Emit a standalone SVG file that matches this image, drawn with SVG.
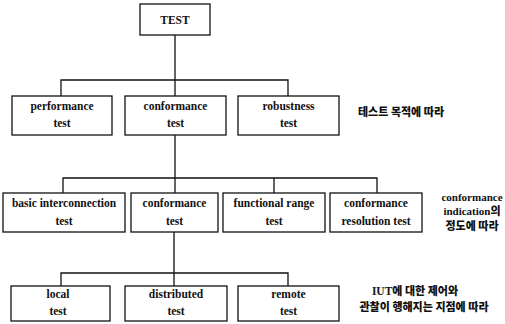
<svg xmlns="http://www.w3.org/2000/svg" width="505" height="324" viewBox="0 0 505 324">
  <style>
    .box { fill: #fff; stroke: #111; stroke-width: 1.3; }
    .wire { fill: none; stroke: #111; stroke-width: 1.3; }
    .lbl { font-family: "Liberation Serif", "DejaVu Serif", serif; font-weight: bold; font-size: 11.5px; fill: #111; text-anchor: middle; }
    .note { font-family: "Liberation Serif", "Noto Sans CJK KR", serif; font-weight: bold; font-size: 11px; fill: #111; }
    .kr { font-family: "Noto Sans CJK KR", sans-serif; font-weight: 900; font-size: 11px; fill: #111; }
  </style>
  <rect width="505" height="324" fill="#fff"/>

  <!-- connectors -->
  <g id="connectors">
    <path class="wire" d="M175 35 V96 M61 96 V80 H288 V96"/>
    <path class="wire" d="M175 135 V193 M63 193 V178 H377 V193 M274 178 V193"/>
    <path class="wire" d="M174 232 V286 M61 286 V273 H288 V286"/>
  </g>

  <!-- root -->
  <g id="test">
    <rect class="box" x="140" y="4" width="70" height="31"/>
    <text class="lbl" x="175" y="24" font-size="12.5">TEST</text>
  </g>

  <!-- level 1 -->
  <g id="performance">
    <rect class="box" x="12" y="96" width="100" height="39"/>
    <text class="lbl" x="62" y="110">performance</text>
    <text class="lbl" x="62" y="127">test</text>
  </g>
  <g id="conformance">
    <rect class="box" x="125" y="96" width="101" height="39"/>
    <text class="lbl" x="175.5" y="110">conformance</text>
    <text class="lbl" x="175.5" y="127">test</text>
  </g>
  <g id="robustness">
    <rect class="box" x="238" y="96" width="101" height="39"/>
    <text class="lbl" x="288.5" y="110">robustness</text>
    <text class="lbl" x="288.5" y="127">test</text>
  </g>
  <text class="kr" x="358" y="116">테스트 목적에 따라</text>

  <!-- level 2 -->
  <g id="basic-interconnection">
    <rect class="box" x="3" y="193" width="122" height="39"/>
    <text class="lbl" x="64" y="207">basic interconnection</text>
    <text class="lbl" x="64" y="225">test</text>
  </g>
  <g id="conformance-2">
    <rect class="box" x="131" y="193" width="87" height="39"/>
    <text class="lbl" x="174.5" y="207">conformance</text>
    <text class="lbl" x="174.5" y="225">test</text>
  </g>
  <g id="functional-range">
    <rect class="box" x="223" y="193" width="102" height="39"/>
    <text class="lbl" x="274" y="207">functional range</text>
    <text class="lbl" x="274" y="225">test</text>
  </g>
  <g id="conformance-resolution">
    <rect class="box" x="330" y="193" width="92" height="39"/>
    <text class="lbl" x="376" y="207">conformance</text>
    <text class="lbl" x="376" y="225">resolution  test</text>
  </g>
  <text class="note" x="472" y="201" text-anchor="middle">conformance</text>
  <text class="note" x="472" y="215" text-anchor="middle">indication<tspan font-family="Noto Sans CJK KR, sans-serif" font-weight="900">의</tspan></text>
  <text class="kr" x="472" y="230" text-anchor="middle">정도에 따라</text>

  <!-- level 3 -->
  <g id="local">
    <rect class="box" x="11" y="286" width="99" height="35"/>
    <text class="lbl" x="58" y="298">local</text>
    <text class="lbl" x="58" y="315">test</text>
  </g>
  <g id="distributed">
    <rect class="box" x="125" y="286" width="102" height="35"/>
    <text class="lbl" x="176" y="298">distributed</text>
    <text class="lbl" x="176" y="315">test</text>
  </g>
  <g id="remote">
    <rect class="box" x="238" y="286" width="101" height="35"/>
    <text class="lbl" x="288.5" y="298">remote</text>
    <text class="lbl" x="288.5" y="315">test</text>
  </g>
  <text class="kr" x="415" y="295" text-anchor="middle"><tspan font-family="Liberation Serif, serif" font-size="11.5">IUT</tspan>에 대한 제어와</text>
  <text class="kr" x="424" y="311" text-anchor="middle">관찰이 행해지는 지점에 따라</text>
</svg>
